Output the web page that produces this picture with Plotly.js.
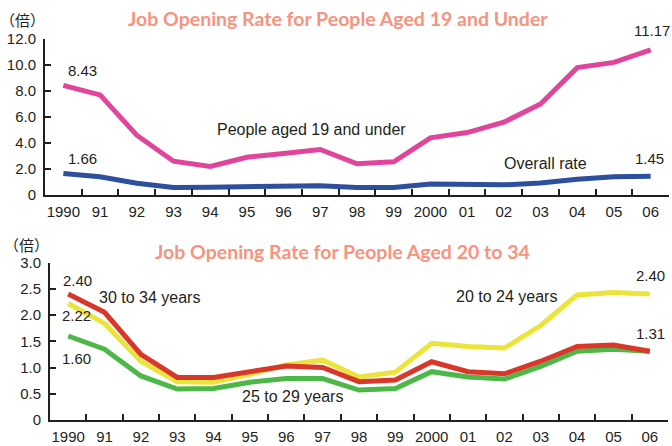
<!DOCTYPE html>
<html><head><meta charset="utf-8">
<script src="https://cdn.plot.ly/plotly-3.0.1.min.js"></script>
<style>html,body{margin:0;padding:0;background:#fff}#c{width:672px;height:446px}</style>
</head><body><div id="c"></div>
<script>
const years = ["1990","91","92","93","94","95","96","97","98","99","2000","01","02","03","04","05","06"];
const under19 = [8.43,7.7,4.6,2.6,2.2,2.9,3.2,3.5,2.4,2.55,4.4,4.8,5.6,7.0,9.8,10.2,11.17];
const overall = [1.66,1.4,0.9,0.58,0.6,0.62,0.7,0.72,0.58,0.58,0.85,0.85,0.78,0.92,1.22,1.4,1.45];
const age20to24 = [2.22,1.84,1.12,0.73,0.72,0.87,1.05,1.14,0.82,0.91,1.46,1.40,1.37,1.80,2.38,2.43,2.40];
const age25to29 = [1.60,1.35,0.84,0.59,0.60,0.72,0.79,0.79,0.57,0.60,0.92,0.82,0.78,1.02,1.31,1.35,1.31];
const age30to34 = [2.40,2.05,1.25,0.81,0.81,0.92,1.03,1.00,0.73,0.76,1.11,0.92,0.88,1.12,1.40,1.43,1.31];
const topTickVals = [0,2,4,6,8,10,12];
const topTickText = ["0","2.0","4.0","6.0","8.0","10.0","12.0"];
const botTickVals = [0,0.5,1,1.5,2,2.5,3];
const botTickText = ["0","0.5","1.0","1.5","2.0","2.5","3.0"];
const title1 = "Job Opening Rate for People Aged 19 and Under";
const title2 = "Job Opening Rate for People Aged 20 to 34";
const unit = "（倍）";

const W = 672, H = 446;
const px = x => x / W, py = y => 1 - y / H;
const txt = '#231f20';
const tickFont = {family: 'Liberation Sans, Arial, sans-serif', size: 15, color: txt};

function line(y, color, xa, ya, w) {
  return {x: years, y: y, type: 'scatter', mode: 'lines', xaxis: xa, yaxis: ya,
    line: {color: color, width: w || 5, shape: 'linear'}, hoverinfo: 'skip'};
}
const traces = [
  line(under19, '#e0459b', 'x', 'y', 5),
  line(overall, '#2e4f9e', 'x', 'y', 5),
  line(age25to29, '#4db848', 'x2', 'y2', 5),
  line(age20to24, '#ebe43a', 'x2', 'y2', 5),
  line(age30to34, '#d8372a', 'x2', 'y2', 5),
];

function xaxis(domain, anchor) {
  return {domain: domain, anchor: anchor, type: 'category', range: [-0.5, 16.5],
    tickson: 'boundaries', ticks: 'inside', ticklen: 6, tickwidth: 2, tickcolor: '#231f20',
    showline: true, linecolor: '#231f20', linewidth: 2, showgrid: false, zeroline: false,
    tickangle: 0, tickfont: tickFont, ticklabelstandoff: 2, fixedrange: true};
}
function yaxis(domain, anchor, range, vals, text) {
  return {domain: domain, anchor: anchor, range: range, tickmode: 'array', tickvals: vals, ticktext: text,
    ticks: 'inside', ticklen: 6, tickwidth: 2, tickcolor: '#231f20',
    showline: true, linecolor: '#231f20', linewidth: 2, showgrid: false, zeroline: false,
    tickfont: tickFont, ticklabelstandoff: 4, fixedrange: true};
}

const af = {family: 'Liberation Sans, Arial, sans-serif', size: 15, color: txt};
const wf = {family: 'Liberation Sans, Arial, sans-serif', size: 16, color: txt};
function ann(text, x, y, font) {
  return {text: text, xref: 'paper', yref: 'paper', x: px(x), y: py(y), showarrow: false,
    xanchor: 'center', yanchor: 'middle', font: font || af};
}
const tf = {family: 'Lato, Open Sans, sans-serif', size: 19.5, color: '#f7937e', weight: 700};
const uf = {family: 'Noto Sans CJK JP, sans-serif', size: 15, color: txt};

const layout = {
  width: W, height: H, margin: {l: 0, r: 0, t: 0, b: 0},
  paper_bgcolor: '#fff', plot_bgcolor: 'rgba(0,0,0,0)', showlegend: false,
  xaxis: xaxis([px(45), px(669)], 'y'),
  yaxis: yaxis([py(195), py(39)], 'x', [0, 12], topTickVals, topTickText),
  xaxis2: xaxis([px(50), px(668)], 'y2'),
  yaxis2: yaxis([py(420), py(262.5)], 'x2', [0, 3], botTickVals, botTickText),
  annotations: [
    {text: '<b>' + title1 + '</b>', xref: 'paper', yref: 'paper', x: px(338), y: py(18), showarrow: false, xanchor: 'center', yanchor: 'middle', font: tf},
    {text: '<b>' + title2 + '</b>', xref: 'paper', yref: 'paper', x: px(342), y: py(252), showarrow: false, xanchor: 'center', yanchor: 'middle', font: tf},
    {text: unit, xref: 'paper', yref: 'paper', x: px(22), y: py(19), showarrow: false, xanchor: 'center', yanchor: 'middle', font: uf},
    {text: unit, xref: 'paper', yref: 'paper', x: px(26), y: py(244), showarrow: false, xanchor: 'center', yanchor: 'middle', font: uf},
    ann(under19[0].toFixed(2), 82, 70),
    ann(overall[0].toFixed(2), 82, 158),
    ann(under19[16].toFixed(2), 652, 31),
    ann(overall[16].toFixed(2), 649, 158),
    ann('People aged 19 and under', 311, 129, wf),
    ann('Overall rate', 545, 163, wf),
    ann(age30to34[0].toFixed(2), 77, 280),
    ann(age20to24[0].toFixed(2), 76, 315),
    ann(age25to29[0].toFixed(2), 76, 358),
    ann('30 to 34 years', 149, 297, wf),
    ann('25 to 29 years', 292, 396, wf),
    ann('20 to 24 years', 506, 296, wf),
    ann(age20to24[16].toFixed(2), 650, 275),
    ann(age30to34[16].toFixed(2), 650, 333),
  ]
};
Plotly.newPlot('c', traces, layout, {staticPlot: true, displayModeBar: false});
</script>
</body></html>
